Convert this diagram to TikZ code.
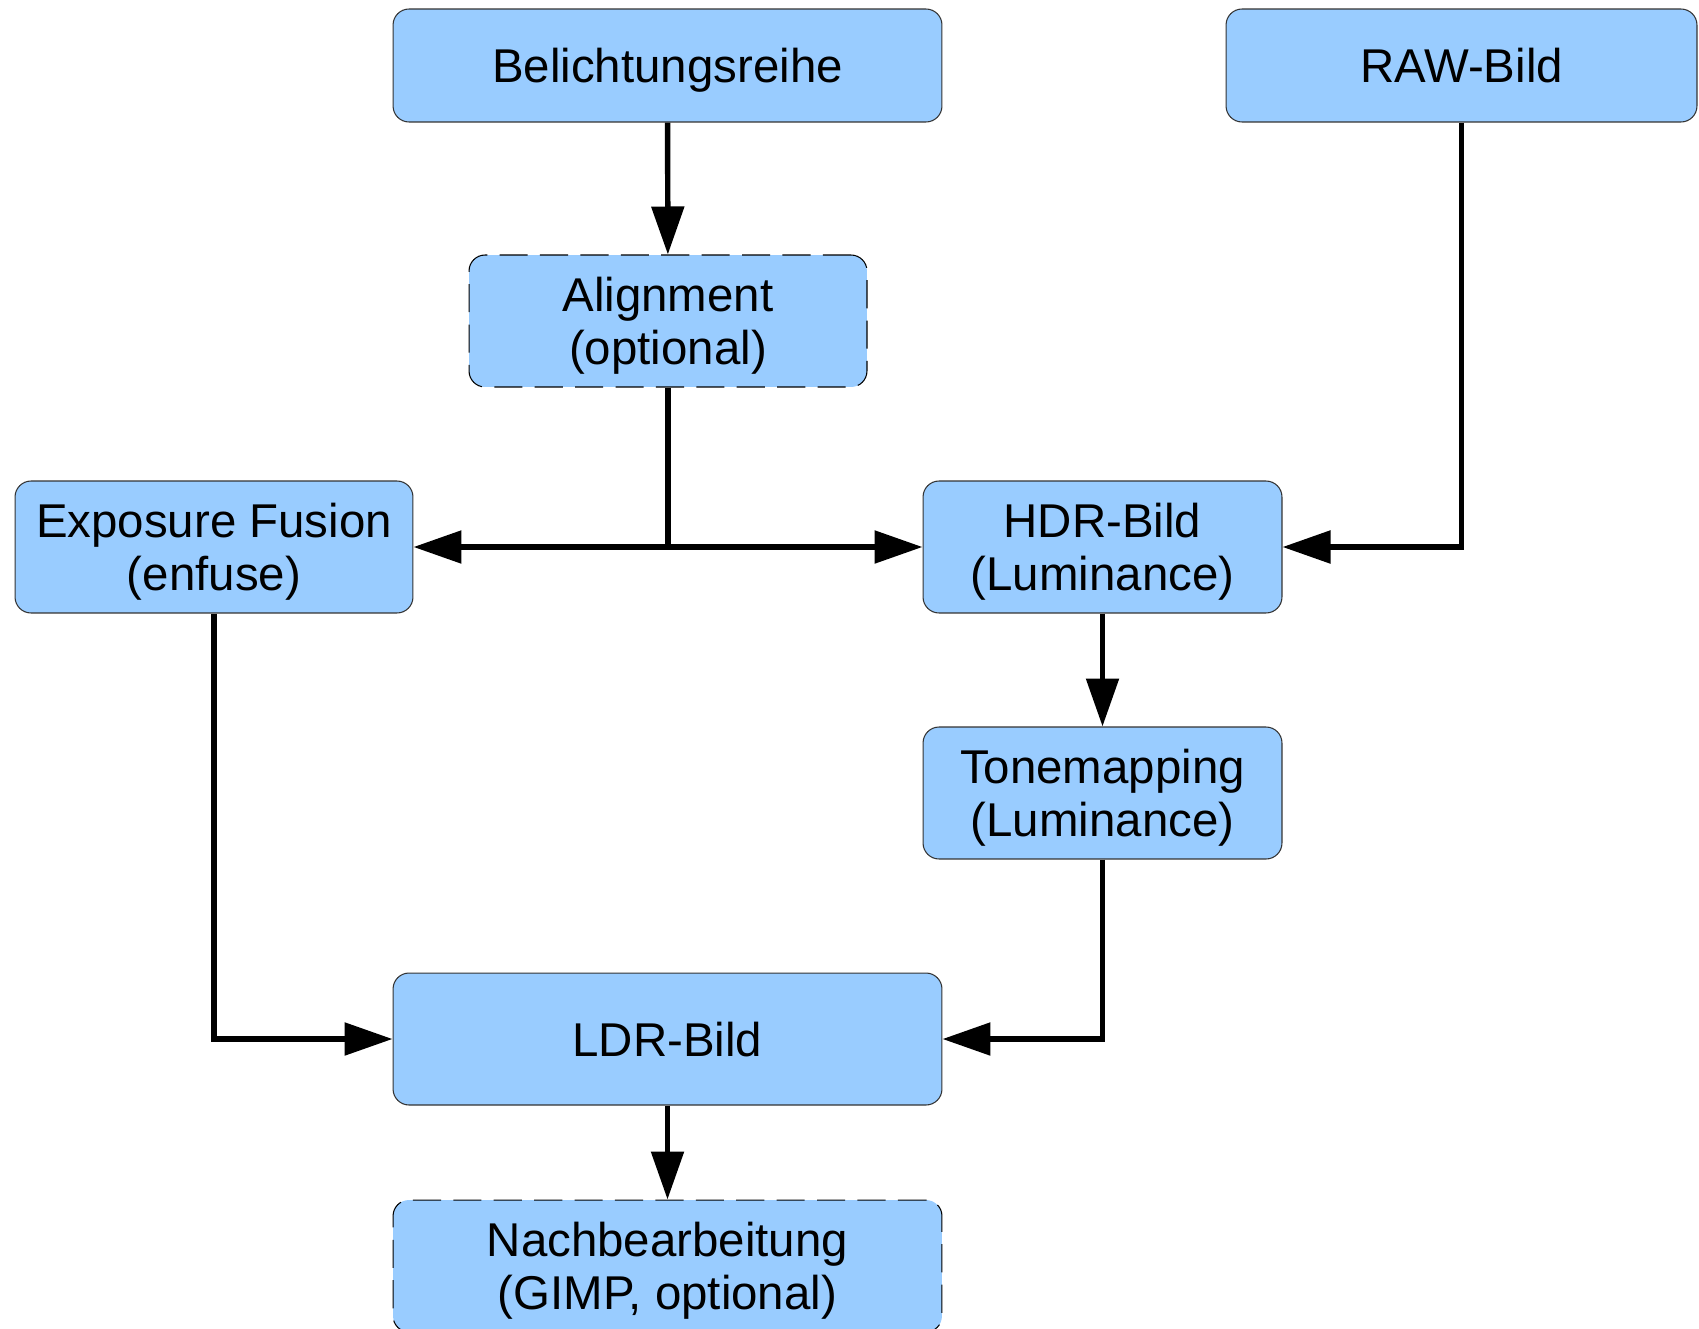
\documentclass[tikz,border=0pt]{standalone}
\usepackage{fontspec}
\setmainfont{Liberation Sans}
\usetikzlibrary{positioning,arrows.meta,calc}
\definecolor{boxFill}{HTML}{99CCFF}
\definecolor{boxLine}{HTML}{333333}

\begin{document}
\begin{tikzpicture}[
          x=0.02cm,y=-0.02cm,
          every node/.style={font=\fontsize{27pt}{30pt}\selectfont,
                             text=black,align=center,inner sep=0pt},
          stage/.style={draw=boxLine,line width=0.6pt,fill=boxFill,
                        rounded corners=0.32cm,text depth=0pt},
          optstage/.style={stage,draw=black,dash pattern=on 16pt off 7pt},
          flow/.style={line width=3.1pt,line join=miter,
                       -{Triangle[length=0.96cm,width=0.64cm]}},
        ]
        \useasboundingbox (0,0) rectangle (1699,1328);
        % inputs
        \node[stage,minimum width=10.98cm,minimum height=2.26cm]
              (series) at (667.5,65.5) {Belichtungsreihe};
        \node[stage,minimum width=9.42cm,minimum height=2.26cm]
              (raw) at (1461.5,65.5) {RAW-Bild};
        \node[optstage,minimum width=7.96cm,minimum height=2.64cm]
              (align) at (668,321) {Alignment\\(optional)};
        % processing
        \node[stage,minimum width=7.96cm,minimum height=2.64cm]
              (fusion) at (214,547) {Exposure Fusion\\(enfuse)};
        \node[stage,minimum width=7.18cm,minimum height=2.64cm]
              (hdr) at (1102.5,547) {HDR-Bild\\(Luminance)};
        \node[stage,minimum width=7.18cm,minimum height=2.64cm]
              (tone) at (1102.5,793) {Tonemapping\\(Luminance)};
        % outputs
        \node[stage,minimum width=10.98cm,minimum height=2.64cm]
              (ldr) at (667.5,1039) {LDR-Bild};
        \node[optstage,minimum width=10.98cm,minimum height=2.64cm]
              (post) at (667.5,1266) {Nachbearbeitung\\(GIMP, optional)};
        % connectors
        \coordinate (split) at (align.south |- hdr.west);
        \draw[flow] (series) -- (align);
        \draw[line width=3.1pt] (align.south) -- (split);
        \draw[flow] (split) -- (fusion.east);
        \draw[flow] (split) -- (hdr.west);
        \draw[flow] (raw.south) |- (hdr.east);
        \draw[flow] (hdr) -- (tone);
        \draw[flow] (fusion.south) |- (ldr.west);
        \draw[flow] (tone.south) |- (ldr.east);
        \draw[flow] (ldr) -- (post);
      \end{tikzpicture}
\end{document}
